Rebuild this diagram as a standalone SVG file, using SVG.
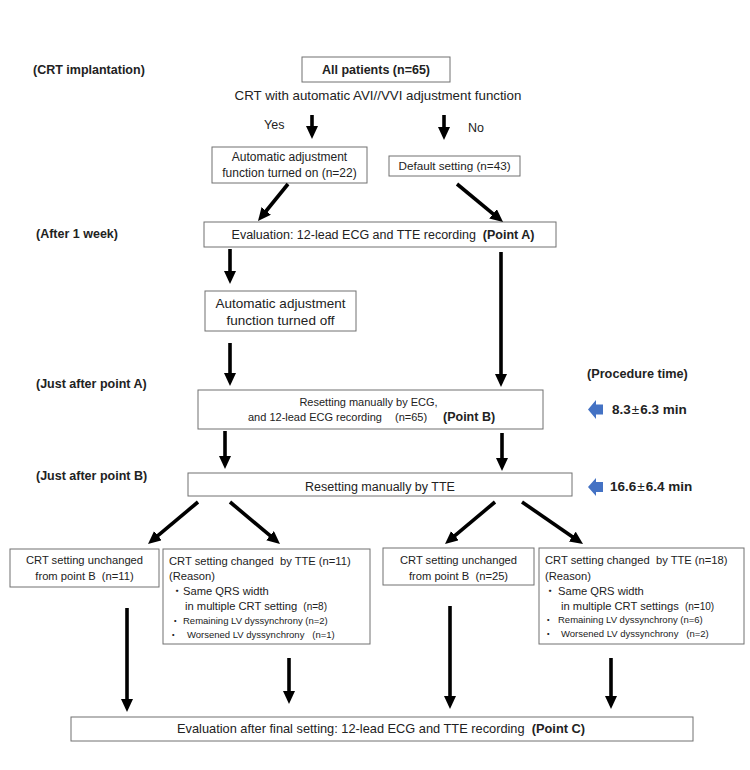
<svg xmlns="http://www.w3.org/2000/svg" width="750" height="770" viewBox="0 0 750 770">
<style>
text{font-family:"Liberation Sans",Arial,"Noto Sans CJK JP",sans-serif;fill:#222;}
.b{font-weight:bold;}
.lbl{font-size:12.5px;font-weight:bold;}
.box{fill:#fff;stroke:#707070;stroke-width:1;}
.arr{stroke:#000;stroke-width:3.6;fill:none;marker-end:url(#ah);}
.pre{white-space:pre;}
.m{text-anchor:middle;}
.s{font-size:11.2px;}
.xs{font-size:9.5px;}
.blue{fill:#4472C4;}
.pm{font-weight:normal;}
</style>
<defs>
<marker id="ah" markerUnits="userSpaceOnUse" markerWidth="14" markerHeight="13" refX="4" refY="6" orient="auto">
<path d="M0,0 L13,6 L0,12 z" fill="#000"/>
</marker>
</defs>
<rect width="750" height="770" fill="#fff"/>

<g id="stage-labels">
<text class="lbl" x="33" y="74">(CRT implantation)</text>
<text class="lbl" x="36" y="238">(After 1 week)</text>
<text class="lbl" x="36" y="388">(Just after point A)</text>
<text class="lbl" x="36" y="480">(Just after point B)</text>
<text class="lbl" x="587" y="378" style="font-size:12.7px">(Procedure time)</text>
</g>

<g id="all-patients">
<rect class="box" x="302" y="57" width="148" height="25"/>
<text class="b m" x="376" y="74" style="font-size:12.5px">All patients (n=65)</text>
</g>
<g id="question">
<text class="m" x="378" y="100" style="font-size:13.3px">CRT with automatic AVI//VVI adjustment function</text>
<text x="264" y="129" style="font-size:12.5px">Yes</text>
<text x="468" y="132" style="font-size:12.5px">No</text>
</g>
<g id="auto-on">
<rect class="box" x="212" y="147" width="155" height="36"/>
<text class="m" x="289.5" y="161" style="font-size:12px">Automatic adjustment</text>
<text class="m" x="289.5" y="177" style="font-size:12px">function turned on (n=22)</text>
</g>
<g id="default">
<rect class="box" x="389" y="156" width="131" height="20"/>
<text class="m" x="454.5" y="170" style="font-size:11.7px">Default setting (n=43)</text>
</g>
<g id="point-a">
<rect class="box" x="204" y="222" width="352" height="25"/>
<text class="m pre" x="383" y="239" style="font-size:12.5px">Evaluation: 12-lead ECG and TTE recording  <tspan class="b">(Point A)</tspan></text>
</g>
<g id="auto-off">
<rect class="box" x="205" y="291" width="151" height="40"/>
<text class="m" x="280.5" y="308" style="font-size:13.5px">Automatic adjustment</text>
<text class="m" x="280.5" y="325" style="font-size:13.5px">function turned off</text>
</g>
<g id="point-b">
<rect class="box" x="198" y="390" width="345" height="39"/>
<text class="m" x="368.5" y="406" style="font-size:11px">Resetting manually by ECG,</text>
<text y="421" style="font-size:11px"><tspan x="248">and 12-lead ECG recording</tspan><tspan x="395">(n=65)</tspan><tspan x="443" class="b" style="font-size:12.5px">(Point B)</tspan></text>
</g>
<g id="time-b">
<polygon class="blue" points="588,409.5 596,400 596,404.5 603,404.5 603,414.5 596,414.5 596,419"/>
<text class="b" x="612" y="414" style="font-size:13.5px">8.3<tspan class="pm" dx="1">±</tspan><tspan dx="1">6.3 min</tspan></text>
</g>
<g id="tte">
<rect class="box" x="188" y="473" width="384" height="23"/>
<text class="m" x="380" y="491" style="font-size:12.5px">Resetting manually by TTE</text>
</g>
<g id="time-tte">
<polygon class="blue" points="588,487 596,478 596,482 603,482 603,492 596,492 596,496"/>
<text class="b" x="610" y="491" style="font-size:13.5px">16.6<tspan class="pm" dx="1">±</tspan><tspan dx="1">6.4 min</tspan></text>
</g>
<g id="unchanged-11">
<rect class="box" x="10" y="549" width="149" height="38"/>
<text class="m s pre" x="84.5" y="564">CRT setting unchanged</text>
<text class="m s pre" x="84.5" y="580">from point B  (n=11)</text>
</g>
<g id="changed-11">
<rect class="box" x="163" y="549" width="207" height="95"/>
<text class="s pre" x="169" y="565">CRT setting changed  by TTE (n=11)</text>
<text class="s" x="169" y="580">(Reason)</text>
<text class="s" y="595"><tspan x="171.5">・</tspan><tspan x="183">Same QRS width</tspan></text>
<text class="s pre" x="185" y="610">in multiple CRT setting  <tspan style="font-size:10px">(n=8)</tspan></text>
<text class="xs" y="624"><tspan x="170.5">・</tspan><tspan x="183">Remaining LV dyssynchrony (n=2)</tspan></text>
<text class="xs pre" y="638"><tspan x="168.5">・</tspan><tspan x="187">Worsened LV dyssynchrony   (n=1)</tspan></text>
</g>
<g id="unchanged-25">
<rect class="box" x="383" y="548" width="151" height="37"/>
<text class="m s pre" x="458.5" y="564">CRT setting unchanged</text>
<text class="m s pre" x="458.5" y="580">from point B  (n=25)</text>
</g>
<g id="changed-18">
<rect class="box" x="539" y="548" width="205" height="96"/>
<text class="s pre" x="545" y="564">CRT setting changed  by TTE (n=18)</text>
<text class="s" x="545" y="580">(Reason)</text>
<text class="s" y="595"><tspan x="544.5">・</tspan><tspan x="558">Same QRS width</tspan></text>
<text class="s pre" x="561" y="610">in multiple CRT settings  <tspan style="font-size:10px">(n=10)</tspan></text>
<text class="xs" y="623"><tspan x="543.5">・</tspan><tspan x="558">Remaining LV dyssynchrony (n=6)</tspan></text>
<text class="xs pre" y="637"><tspan x="543.5">・</tspan><tspan x="561">Worsened LV dyssynchrony   (n=2)</tspan></text>
</g>
<g id="point-c">
<rect class="box" x="71" y="717" width="622" height="24"/>
<text class="pre" x="177" y="733" style="font-size:12.8px">Evaluation after final setting: 12-lead ECG and TTE recording  <tspan class="b">(Point C)</tspan></text>
</g>

<g id="connectors">
<line class="arr" x1="312" y1="115" x2="312" y2="130"/>
<line class="arr" x1="444" y1="115" x2="444" y2="131"/>
<line class="arr" x1="288" y1="184" x2="263.7" y2="214"/>
<line class="arr" x1="457" y1="184" x2="496.1" y2="216.3"/>
<line class="arr" x1="230" y1="249" x2="230" y2="275"/>
<line class="arr" x1="230" y1="343" x2="230" y2="377"/>
<line class="arr" x1="501" y1="252" x2="501" y2="378"/>
<line class="arr" x1="225" y1="431" x2="225" y2="460"/>
<line class="arr" x1="502" y1="433" x2="502" y2="462"/>
<line class="arr" x1="198" y1="502" x2="154.9" y2="538.2"/>
<line class="arr" x1="230" y1="502" x2="273.1" y2="538.2"/>
<line class="arr" x1="495" y1="502" x2="451.9" y2="538.2"/>
<line class="arr" x1="522" y1="502" x2="575.6" y2="538.9"/>
<line class="arr" x1="127" y1="608" x2="127" y2="703"/>
<line class="arr" x1="289" y1="658" x2="289" y2="695"/>
<line class="arr" x1="450" y1="606" x2="450" y2="700"/>
<line class="arr" x1="611" y1="658" x2="611" y2="700"/>
</g>
</svg>
